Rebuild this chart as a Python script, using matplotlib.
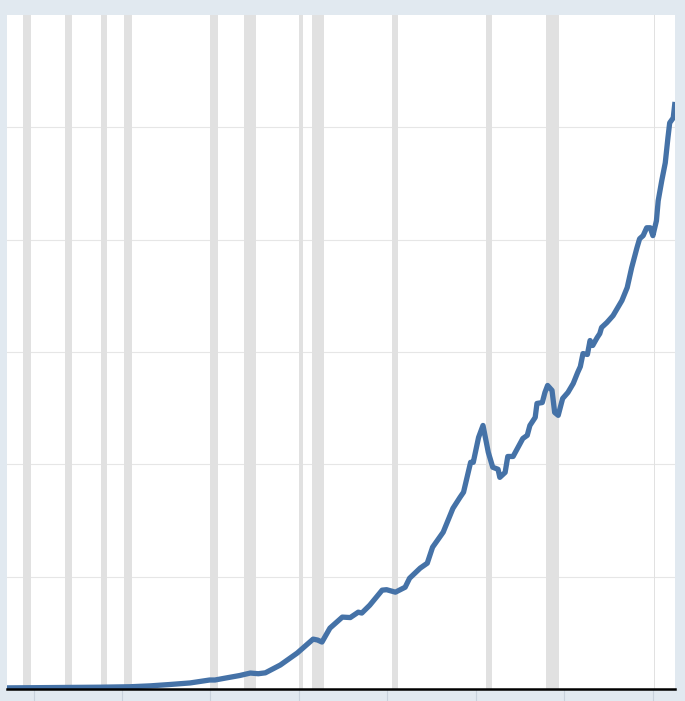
import matplotlib
matplotlib.use("Agg")
import matplotlib.pyplot as plt

# series values (gridline step = 500)
years = [1947.0, 1950.7, 1957.5, 1960.9, 1963.2, 1965.4, 1967.7, 1969.9, 1970.5,
         1971.6, 1973.3, 1974.5, 1975.4, 1976.2, 1977.9, 1979.8, 1981.6, 1982.1,
         1982.6, 1983.5, 1984.9, 1985.8, 1986.7, 1987.1, 1988.0, 1989.4, 1989.9,
         1990.9, 1992.0, 1992.5, 1993.7, 1994.5, 1995.1, 1996.3, 1997.4, 1998.2,
         1998.6, 1999.4, 1999.7, 2000.3, 2000.8, 2001.4, 2001.9, 2002.5, 2002.7,
         2003.3, 2003.6, 2004.2, 2005.3, 2005.8, 2006.1, 2006.7, 2006.9, 2007.5,
         2007.8, 2008.1, 2008.6, 2008.9, 2009.3, 2009.8, 2010.4, 2011.0, 2011.5,
         2011.8, 2012.1, 2012.6, 2012.9, 2013.2, 2013.7, 2014.0, 2014.2, 2014.8,
         2015.5, 2016.5, 2017.1, 2017.6, 2018.2, 2018.5, 2018.9, 2019.3, 2019.7,
         2020.0, 2020.4, 2020.6, 2021.0, 2021.4, 2021.7, 2021.9, 2022.3, 2022.5]
values = [5, 6, 8, 10, 14, 20, 27, 40, 40,
          48, 60, 71, 68, 72, 107, 160, 222, 218,
          209, 271, 320, 318, 342, 338, 373, 440, 442,
          431, 453, 493, 538, 560, 631, 698, 804, 853,
          876, 1009, 1009, 1120, 1173, 1053, 987, 978, 942,
          964, 1035, 1035, 1115, 1129, 1173, 1209, 1271, 1275,
          1320, 1351, 1329, 1231, 1218, 1293, 1320, 1360, 1409,
          1435, 1493, 1489, 1551, 1529, 1564, 1582, 1609, 1631,
          1662, 1729, 1787, 1875, 1964, 2004, 2018, 2053, 2053,
          2018, 2084, 2173, 2262, 2342, 2453, 2520, 2542, 2613]

# recession periods (start, end)
recessions = [(1948.83, 1949.75), (1953.5, 1954.33), (1957.58, 1958.25),
              (1960.25, 1961.08), (1969.92, 1970.83), (1973.83, 1975.17),
              (1980.0, 1980.5), (1981.5, 1982.83), (1990.5, 1991.17),
              (2001.17, 2001.83), (2007.92, 2009.42), (2020.08, 2020.25)]

xticks = [1950, 1960, 1970, 1980, 1990, 2000, 2010, 2020]
yticks = [500, 1000, 1500, 2000, 2500]

fig = plt.figure(figsize=(6.85, 7.01), dpi=100, facecolor="#e1e9f0")
ax = fig.add_axes([7/685, 12/701, 668/685, 674/701])
ax.set_facecolor("white")

for a, b in recessions:
    ax.axvspan(a, b, color="#e1e1e1", lw=0, zorder=1)

for yv in yticks:
    ax.axhline(yv, color="#e6e6e6", lw=0.8, zorder=0.5)

ax.plot(years, values, color="#4572a7", lw=3.8, solid_joinstyle="round",
        solid_capstyle="butt", zorder=3)

ax.set_xlim(1947.0, 2022.5)
ax.set_ylim(0, 3000)

for s in ["top", "left", "right"]:
    ax.spines[s].set_visible(False)
ax.spines["bottom"].set_color("black")
ax.spines["bottom"].set_linewidth(1.8)
ax.spines["bottom"].set_zorder(4)

ax.set_yticks([])
ax.set_xticks(xticks)
ax.set_xticklabels([])
ax.tick_params(axis="x", direction="out", length=12, width=0.8, color="#c8d2dc")

fig.savefig("out.png", dpi=100, facecolor=fig.get_facecolor())
